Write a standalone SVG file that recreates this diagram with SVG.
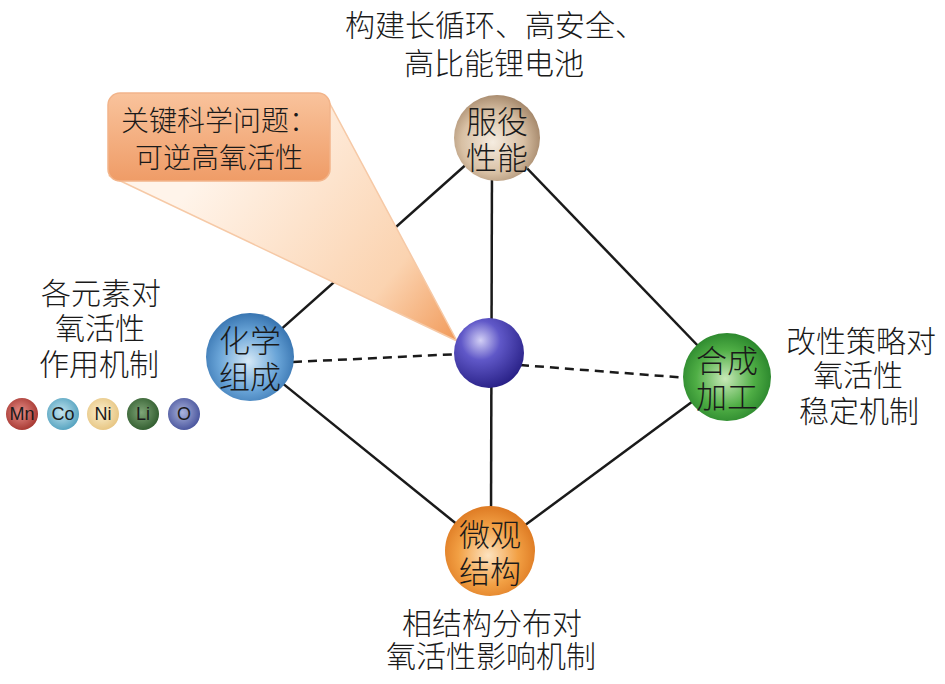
<svg xmlns="http://www.w3.org/2000/svg" width="945" height="684" viewBox="0 0 945 684">
<defs>
<style>
.t{font-family:"Noto Sans CJK SC","Noto Sans",sans-serif;font-size:30px;font-weight:300;fill:#1a1a1a;text-anchor:middle}
.c{font-family:"Noto Sans CJK SC","Noto Sans",sans-serif;font-size:28px;font-weight:300;fill:#1a1a1a;text-anchor:middle}
.n{font-family:"Noto Sans CJK SC","Noto Sans",sans-serif;font-size:31px;font-weight:300;fill:#1a1a1a;text-anchor:middle}
.e{font-family:"Liberation Sans",Arial,sans-serif;font-size:18px;fill:#1a1a1a;text-anchor:middle}
.l{stroke:#1a1a1a;stroke-width:2.5;fill:none}
.d{stroke:#1a1a1a;stroke-width:2.5;fill:none;stroke-dasharray:9 6}
</style>
<radialGradient id="gTan" cx="45%" cy="55%" r="60%"><stop offset="0" stop-color="#f5ece0"/><stop offset="0.6" stop-color="#d8c0a4"/><stop offset="1" stop-color="#9e8063"/></radialGradient>
<radialGradient id="gBlue" cx="48%" cy="55%" r="60%"><stop offset="0" stop-color="#d6e9f7"/><stop offset="0.55" stop-color="#6aa5d8"/><stop offset="1" stop-color="#2d6aa8"/></radialGradient>
<radialGradient id="gGreen" cx="48%" cy="52%" r="60%"><stop offset="0" stop-color="#c8e9b8"/><stop offset="0.55" stop-color="#4fae45"/><stop offset="1" stop-color="#1f7a25"/></radialGradient>
<radialGradient id="gOrange" cx="48%" cy="55%" r="60%"><stop offset="0" stop-color="#fde3c0"/><stop offset="0.55" stop-color="#f2a044"/><stop offset="1" stop-color="#d9711b"/></radialGradient>
<radialGradient id="gPurple" cx="38%" cy="32%" r="70%"><stop offset="0" stop-color="#d2cff5"/><stop offset="0.4" stop-color="#6058c8"/><stop offset="1" stop-color="#2a2288"/></radialGradient>
<radialGradient id="gMn" cx="45%" cy="45%" r="60%"><stop offset="0" stop-color="#e8908a"/><stop offset="1" stop-color="#a3332d"/></radialGradient>
<radialGradient id="gCo" cx="45%" cy="45%" r="60%"><stop offset="0" stop-color="#c2e4ef"/><stop offset="1" stop-color="#4f9fbd"/></radialGradient>
<radialGradient id="gNi" cx="45%" cy="45%" r="60%"><stop offset="0" stop-color="#fbf0cf"/><stop offset="1" stop-color="#e6c37e"/></radialGradient>
<radialGradient id="gLi" cx="45%" cy="45%" r="60%"><stop offset="0" stop-color="#7fa577"/><stop offset="1" stop-color="#2e5a2c"/></radialGradient>
<radialGradient id="gO" cx="45%" cy="45%" r="60%"><stop offset="0" stop-color="#aab3dc"/><stop offset="1" stop-color="#44509a"/></radialGradient>
<linearGradient id="gBox" x1="0" y1="0" x2="0" y2="1"><stop offset="0" stop-color="#f9c39c"/><stop offset="1" stop-color="#ef9c67"/></linearGradient>
<linearGradient id="gTri" gradientUnits="userSpaceOnUse" x1="220" y1="150" x2="457" y2="340"><stop offset="0" stop-color="#fff4ea"/><stop offset="0.7" stop-color="#fbd3b0"/><stop offset="1" stop-color="#f19a5a"/></linearGradient>
</defs>

<g id="connectors">
<line class="l" x1="497" y1="137" x2="250" y2="357"/>
<line class="l" x1="497" y1="137" x2="727" y2="376"/>
<line class="l" x1="492" y1="160" x2="491" y2="520"/>
<line class="l" x1="250" y1="357" x2="490" y2="551"/>
<line class="l" x1="727" y1="376" x2="490" y2="551"/>
<line class="d" x1="293" y1="362" x2="460" y2="354"/>
<line class="d" x1="520" y1="365" x2="688" y2="378"/>
</g>

<g id="callout">
<path d="M110,176 L457,341 L330,104 Z" fill="url(#gTri)" stroke="#f6c9a6" stroke-width="1.5"/>
<rect x="108" y="93" width="222" height="88" rx="12" fill="url(#gBox)" stroke="#f2b48a" stroke-width="1.5"/>
<text class="c" x="219" y="131">关键科学问题：</text>
<text class="c" x="219" y="168">可逆高氧活性</text>
</g>

<g id="center">
<circle cx="489" cy="353" r="35" fill="url(#gPurple)"/>
</g>

<g id="fuyi">
<circle cx="497" cy="138" r="43" fill="url(#gTan)"/>
<text class="n" x="497" y="133">服役</text>
<text class="n" x="497" y="169">性能</text>
</g>

<g id="huaxue">
<circle cx="250" cy="357" r="44" fill="url(#gBlue)"/>
<text class="n" x="250" y="352">化学</text>
<text class="n" x="250" y="388">组成</text>
</g>

<g id="hecheng">
<circle cx="727" cy="377" r="44" fill="url(#gGreen)"/>
<text class="n" x="727" y="372">合成</text>
<text class="n" x="727" y="408">加工</text>
</g>

<g id="weiguan">
<circle cx="490" cy="551" r="45" fill="url(#gOrange)"/>
<text class="n" x="490" y="546">微观</text>
<text class="n" x="490" y="583">结构</text>
</g>

<g id="labels">
<text class="t" x="495" y="36">构建长循环、高安全、</text>
<text class="t" x="494" y="74">高比能锂电池</text>
<text class="t" x="101" y="304">各元素对</text>
<text class="t" x="100" y="339">氧活性</text>
<text class="t" x="99" y="375">作用机制</text>
<text class="t" x="861" y="352">改性策略对</text>
<text class="t" x="858" y="386">氧活性</text>
<text class="t" x="859" y="422">稳定机制</text>
<text class="t" x="492" y="634">相结构分布对</text>
<text class="t" x="491" y="667">氧活性影响机制</text>
</g>

<g id="elements">
<circle cx="22" cy="414" r="16" fill="url(#gMn)"/><text class="e" x="22" y="420">Mn</text>
<circle cx="63" cy="414" r="16" fill="url(#gCo)"/><text class="e" x="63" y="420">Co</text>
<circle cx="103" cy="414" r="16" fill="url(#gNi)"/><text class="e" x="103" y="420">Ni</text>
<circle cx="143" cy="414" r="16" fill="url(#gLi)"/><text class="e" x="143" y="420">Li</text>
<circle cx="184" cy="414" r="16" fill="url(#gO)"/><text class="e" x="184" y="420">O</text>
</g>
</svg>
